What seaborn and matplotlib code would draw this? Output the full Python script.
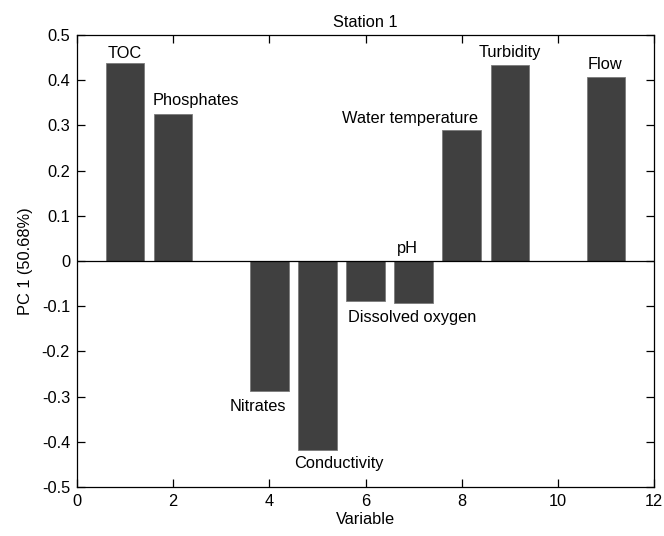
import matplotlib
matplotlib.use("Agg")
import matplotlib.pyplot as plt
import seaborn as sns
import pandas as pd

variables = ["TOC", "Phosphates", "Nitrates", "Conductivity", "Dissolved oxygen",
             "pH", "Water temperature", "Turbidity", "Flow"]
var_index = [1, 2, 4, 5, 6, 7, 8, 9, 11]
pc1_loadings = [0.437, 0.325, -0.288, -0.419, -0.088, -0.093, 0.290, 0.434, 0.407]

x_ticks = [0, 2, 4, 6, 8, 10, 12]
y_ticks = [0.5, 0.4, 0.3, 0.2, 0.1, 0, -0.1, -0.2, -0.3, -0.4, -0.5]

# label placement (data coords) and alignment
label_pos = [(0.99, 0.460, "center"), (1.58, 0.356, "left"), (3.76, -0.321, "center"),
             (5.45, -0.449, "center"), (6.96, -0.126, "center"), (6.88, 0.027, "center"),
             (8.33, 0.316, "right"), (9.0, 0.462, "center"), (10.97, 0.434, "center")]

sns.set_style("white")
plt.rcParams["font.family"] = ["Liberation Sans", "DejaVu Sans"]
plt.rcParams["text.color"] = "black"
plt.rcParams["axes.labelcolor"] = "black"

df = pd.DataFrame({"Variable": var_index, "PC1": pc1_loadings})

fig = plt.figure(figsize=(6.64, 5.36), dpi=100)
ax = fig.add_axes([0.116, 0.0914, 0.985 - 0.116, 0.9347 - 0.0914])

sns.barplot(data=df, x="Variable", y="PC1", native_scale=True, color="#404040",
            saturation=1, width=0.8, edgecolor="#7a7a7a", linewidth=0.6, ax=ax, zorder=2)

ax.axhline(0, color="black", lw=0.9, zorder=3)

fs = 11.8
for name, (lx, ly, ha) in zip(variables, label_pos):
    ax.text(lx, ly, name, ha=ha, va="center", fontsize=fs, color="black")

ax.set_xlim(0, 12)
ax.set_ylim(-0.5, 0.5)
ax.set_xticks(x_ticks)
ax.set_xticklabels([str(t) for t in x_ticks])
ax.set_yticks(y_ticks)
ax.set_yticklabels([f"{t:g}" for t in y_ticks])

ax.tick_params(direction="in", length=6, width=0.9, labelsize=fs, colors="black",
               top=True, right=True, bottom=True, left=True, pad=5)
for s in ax.spines.values():
    s.set_visible(True)
    s.set_color("black")
    s.set_linewidth(0.9)

ax.set_xlabel("Variable", fontsize=fs, labelpad=2, color="black")
ax.set_ylabel("PC 1 (50.68%)", fontsize=fs, labelpad=6, color="black")
ax.set_title("Station 1", fontsize=fs, pad=6, color="black")

fig.savefig("out.png", dpi=100)
